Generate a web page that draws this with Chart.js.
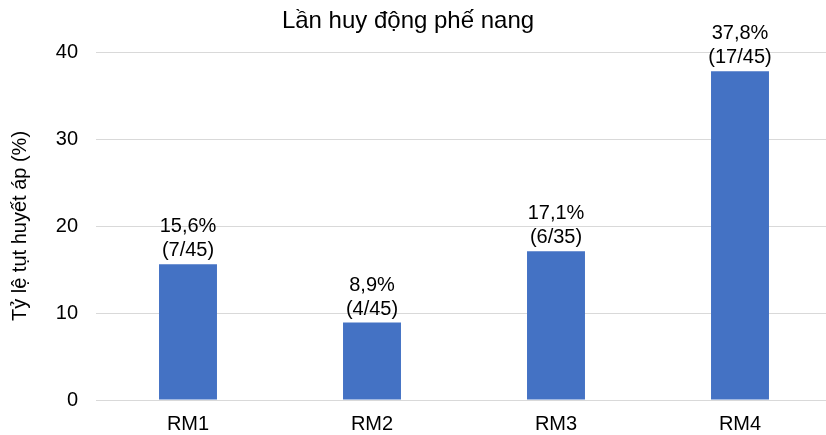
<!DOCTYPE html>
<html>
<head>
<meta charset="utf-8">
<script src="https://cdn.jsdelivr.net/npm/chart.js@4/dist/chart.umd.min.js"></script>
<style>
  html, body { margin: 0; padding: 0; background: #fff; overflow: hidden; }
  #wrap { width: 832px; height: 435px; }
</style>
</head>
<body>
<div id="wrap"><canvas id="chart" width="832" height="435"></canvas></div>
<script>
// データ
const categories = ["RM1", "RM2", "RM3", "RM4"];
const values = [15.6, 8.9, 17.1, 37.8];
const fractions = ["(7/45)", "(4/45)", "(6/35)", "(17/45)"];
const yMax = 40;
const yStep = 10;

const FONT = "'Liberation Sans', Arial, sans-serif";

// 棒の上に 2 行ラベル
const barLabels = {
  id: "barLabels",
  afterDatasetsDraw(chart) {
    const ctx = chart.ctx;
    const meta = chart.getDatasetMeta(0);
    ctx.save();
    ctx.font = "20px " + FONT;
    ctx.fillStyle = "#000";
    ctx.textAlign = "center";
    ctx.textBaseline = "alphabetic";
    meta.data.forEach((bar, i) => {
      const txt = values[i].toFixed(1).replace(".", ",") + "%";
      ctx.fillText(txt, bar.x, bar.y - 32);
      ctx.fillText(fractions[i], bar.x, bar.y - 8);
    });
    ctx.restore();
  }
};

// タイトル (中心を少し左へ)
const titleText = {
  id: "titleText",
  afterDraw(chart) {
    const ctx = chart.ctx;
    ctx.save();
    ctx.font = "24px " + FONT;
    ctx.fillStyle = "#000";
    ctx.textAlign = "center";
    ctx.textBaseline = "alphabetic";
    ctx.fillText("Lần huy động phế nang", 408, 28);
    ctx.restore();
  }
};

new Chart(document.getElementById("chart").getContext("2d"), {
  type: "bar",
  data: {
    labels: categories,
    datasets: [{
      data: values,
      backgroundColor: "#4472C4",
      barPercentage: 1,
      categoryPercentage: 0.315
    }]
  },
  options: {
    responsive: false,
    animation: false,
    layout: { padding: { top: 52, left: 0, right: 0, bottom: 0 } },
    plugins: {
      legend: { display: false },
      tooltip: { enabled: false },
      title: { display: false }
    },
    scales: {
      x: {
        afterFit(scale) { scale.height = 35; },
        grid: { display: false },
        border: { display: false },
        ticks: { color: "#000", font: { family: FONT, size: 20 }, padding: 4 }
      },
      y: {
        min: 0,
        max: yMax,
        afterFit(scale) { scale.width = 96; },
        grid: { color: "#d9d9d9", drawTicks: false },
        border: { display: false },
        ticks: { stepSize: yStep, color: "#000", font: { family: FONT, size: 20 }, padding: 18 },
        title: {
          display: true,
          text: "Tỷ lệ tụt huyết áp (%)",
          color: "#000",
          font: { family: FONT, size: 20 },
          padding: { top: 8, bottom: 0 }
        }
      }
    }
  },
  plugins: [barLabels, titleText]
});
</script>
</body>
</html>
